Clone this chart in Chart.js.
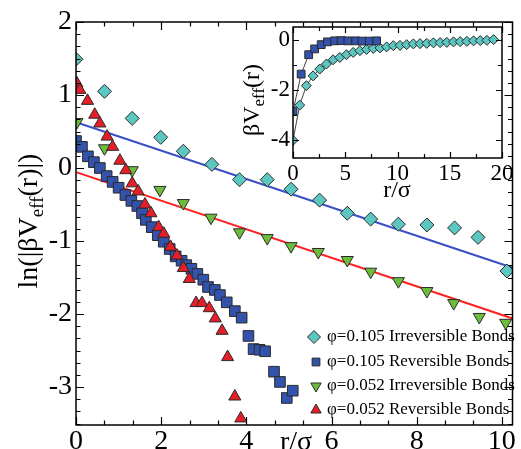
<!DOCTYPE html>
<html><head><meta charset="utf-8">
<script src="https://cdn.jsdelivr.net/npm/chart.js@4.4.1/dist/chart.umd.min.js"></script>
<style>
html,body{margin:0;padding:0;background:#fff;}
#wrap{position:relative;width:521px;height:449px;overflow:hidden;background:#fff;}
#wrap canvas{position:absolute;left:0;top:0;}
</style></head><body>
<div id="wrap"><canvas id="main" width="521" height="449"></canvas><canvas id="inset" width="521" height="449"></canvas></div>
<script>
// ---------- main panel data: ln(|beta V_eff(r)|) vs r/sigma ----------
const irr105X = [0, 0.67, 1.32, 1.99, 2.52, 3.19, 3.84, 4.49, 5.05, 5.72, 6.37, 6.92, 7.57, 8.24, 8.89, 9.44, 10.12];
const irr105Y = [1.49, 1.05, 0.68, 0.42, 0.23, 0.05, -0.16, -0.16, -0.29, -0.44, -0.62, -0.70, -0.77, -0.78, -0.82, -0.95, -1.41];

const rev105X = [0, 0.14, 0.28, 0.42, 0.56, 0.72, 0.86, 1.0, 1.16, 1.30, 1.44, 1.55, 1.64, 1.78, 1.92, 2.06, 2.2, 2.34, 2.48, 2.59, 2.71, 2.85, 2.99, 3.1, 3.26, 3.38, 3.54, 3.73, 3.89, 4.05, 4.17, 4.31, 4.44, 4.65, 4.79, 4.95, 5.09];
const rev105Y = [0.37, 0.29, 0.16, 0.08, 0, -0.11, -0.19, -0.27, -0.37, -0.45, -0.52, -0.62, -0.71, -0.81, -0.92, -1.01, -1.11, -1.21, -1.27, -1.33, -1.38, -1.45, -1.53, -1.63, -1.67, -1.74, -1.84, -1.96, -2.05, -2.30, -2.48, -2.49, -2.51, -2.79, -2.93, -3.15, -3.05];

const irr052X = [0.02, 0.67, 1.32, 1.97, 2.52, 3.17, 3.84, 4.49, 5.05, 5.69, 6.37, 6.92, 7.57, 8.24, 8.87, 9.47, 10.09];
const irr052Y = [0.63, 0.27, -0.03, -0.30, -0.48, -0.68, -0.88, -0.96, -1.07, -1.15, -1.26, -1.42, -1.55, -1.685, -1.85, -2.04, -2.12];

const rev052X = [0.02, 0.09, 0.27, 0.44, 0.56, 0.73, 0.86, 1.03, 1.17, 1.32, 1.46, 1.62, 1.76, 1.94, 2.06, 2.22, 2.37, 2.52, 2.66, 2.82, 2.96, 3.13, 3.27, 3.43, 3.56, 3.73, 3.87];
const rev052Y = [1.16, 1.07, 0.92, 0.73, 0.61, 0.43, 0.29, 0.10, -0.03, -0.21, -0.32, -0.50, -0.62, -0.81, -0.90, -1.08, -1.20, -1.37, -1.52, -1.85, -1.85, -1.92, -2.06, -2.23, -2.59, -3.13, -3.43];

// straight-line fits (end points)
const fitBlueX = [0.09, 10.3];
const fitBlueY = [0.61, -1.375];
const fitRedX = [0.02, 10.3];
const fitRedY = [-0.06, -2.07];

const legendLabels = [
  'φ=0.105 Irreversible Bonds',
  'φ=0.105 Reversible Bonds',
  'φ=0.052 Irreversible Bonds',
  'φ=0.052 Reversible Bonds'
];
const mainXTicks = [0, 2, 4, 6, 8, 10];
const mainYTicks = [-3, -2, -1, 0, 1, 2];

// ---------- inset data: beta V_eff(r) vs r/sigma ----------
const insetRevX = [0, 0.78, 1.5, 2.07, 2.7, 3.3, 3.98, 4.6, 5.25, 6.0, 6.6, 7.3, 8.0];
const insetRevY = [-2.84, -1.37, -0.6, -0.37, -0.2, -0.09, -0.05, -0.04, -0.05, -0.05, -0.06, -0.06, -0.05];
const insetIrrX = [0, 0.64, 1.28, 1.92, 2.56, 3.2, 3.84, 4.48, 5.12, 5.76, 6.4, 7.04, 7.68, 8.32, 8.96, 9.6, 10.24, 10.88, 11.52, 12.16, 12.8, 13.44, 14.08, 14.72, 15.36, 16.0, 16.64, 17.28, 17.92, 18.56, 19.2];
const insetIrrY = [-4.0, -2.6, -1.83, -1.44, -1.17, -0.97, -0.8, -0.71, -0.6, -0.51, -0.44, -0.39, -0.35, -0.33, -0.29, -0.24, -0.23, -0.2, -0.17, -0.16, -0.15, -0.13, -0.12, -0.11, -0.09, -0.08, -0.07, -0.05, -0.04, -0.03, 0];
const insetXTicks = [0, 5, 10, 15, 20];
const insetYTicks = [-4, -2, 0];

// ---------- styles ----------
const C_CYAN = '#5cc7c1', C_BLUE = '#3352ab', C_GREEN = '#6cbd3c', C_RED = '#e61e28';
const C_EDGE = '#2a2a2a';
const SERIF = 'Liberation Serif';

Chart.defaults.font.family = SERIF;
Chart.defaults.color = '#000';

const zip = (xs, ys) => xs.map((x, i) => ({x: x, y: ys[i]}));

function markerSet(label, xs, ys, style, color, radius, rotation, order) {
  return {
    label: label, data: zip(xs, ys), showLine: false,
    pointStyle: style, pointRadius: radius, pointHoverRadius: radius,
    pointRotation: rotation, pointBackgroundColor: color,
    pointBorderColor: C_EDGE, pointBorderWidth: 1,
    backgroundColor: color, borderColor: C_EDGE, order: order
  };
}

function frameTicksPlugin(cfg) {
  return {
    id: 'frameTicks',
    afterDatasetsDraw(chart) {
      const ctx = chart.ctx, a = chart.chartArea, xs = chart.scales.x, ys = chart.scales.y;
      ctx.save();
      ctx.strokeStyle = '#000';
      ctx.lineWidth = cfg.frame;
      ctx.strokeRect(a.left, a.top, a.right - a.left, a.bottom - a.top);
      ctx.lineWidth = cfg.tickW;
      ctx.beginPath();
      const x0 = Math.ceil(xs.min / cfg.xStep - 1e-9), x1 = Math.floor(xs.max / cfg.xStep + 1e-9);
      for (let k = x0; k <= x1; k++) {
        const v = k * cfg.xStep;
        const len = (k % cfg.xEvery === 0) ? cfg.major : cfg.minor;
        const p = Math.round(xs.getPixelForValue(v)) + 0.5;
        ctx.moveTo(p, a.bottom); ctx.lineTo(p, a.bottom - len);
        ctx.moveTo(p, a.top); ctx.lineTo(p, a.top + len);
      }
      const y0 = Math.ceil(ys.min / cfg.yStep - 1e-9), y1 = Math.floor(ys.max / cfg.yStep + 1e-9);
      for (let k = y0; k <= y1; k++) {
        const v = k * cfg.yStep;
        const len = (k % cfg.yEvery === 0) ? cfg.major : cfg.minor;
        const p = Math.round(ys.getPixelForValue(v)) + 0.5;
        ctx.moveTo(a.left, p); ctx.lineTo(a.left + len, p);
        ctx.moveTo(a.right, p); ctx.lineTo(a.right - len, p);
      }
      ctx.stroke();
      ctx.restore();
    }
  };
}

// text with a subscript; rotated = vertical (reading bottom to top)
function drawSubLabel(ctx, parts, cx, cy, rotated, align) {
  ctx.save();
  ctx.fillStyle = '#000';
  ctx.textBaseline = 'alphabetic';
  ctx.textAlign = 'left';
  let w = 0;
  parts.forEach(p => { ctx.font = p.size + 'px "' + SERIF + '"'; p.w = ctx.measureText(p.t).width; w += p.w; });
  ctx.translate(cx, cy);
  if (rotated) ctx.rotate(-Math.PI / 2);
  let pos = align === 'left' ? 0 : -w / 2;
  parts.forEach(p => { ctx.font = p.size + 'px "' + SERIF + '"'; ctx.fillText(p.t, pos, p.dy || 0); pos += p.w; });
  ctx.restore();
}

const helpers = Chart.helpers;

const legendPlugin = {
  id: 'customLegend',
  afterDraw(chart) {
    const ctx = chart.ctx;
    const rows = [
      {ds: 3, y: 337, sx: 314, r: 6.5},
      {ds: 2, y: 362, sx: 316, r: 5.5},
      {ds: 1, y: 386, sx: 316, r: 6},
      {ds: 0, y: 410, sx: 316, r: 6}
    ];
    ctx.save();
    rows.forEach((row, i) => {
      const d = chart.data.datasets[row.ds];
      ctx.fillStyle = d.pointBackgroundColor;
      ctx.strokeStyle = d.pointBorderColor;
      ctx.lineWidth = 1;
      helpers.drawPoint(ctx, {pointStyle: d.pointStyle, rotation: d.pointRotation || 0, radius: row.r, borderWidth: 1}, row.sx, row.y);
      ctx.fillStyle = '#000';
      ctx.font = '17px "' + SERIF + '"';
      ctx.textAlign = 'left';
      ctx.textBaseline = 'alphabetic';
      ctx.fillText(legendLabels[i], 327, row.y + 4);
    });
    ctx.restore();
  }
};

const mainTitles = {
  id: 'mainTitles',
  afterDraw(chart) {
    const ctx = chart.ctx;
    drawSubLabel(ctx, [
      {t: 'ln(|βV', size: 28},
      {t: 'eff', size: 19, dy: 6},
      {t: '(r)|)', size: 28}
    ], 37, 221, true);
    drawSubLabel(ctx, [{t: 'r/σ', size: 28}], 280, 450, false, 'left');
  }
};

const insetTitles = {
  id: 'insetTitles',
  afterDraw(chart) {
    const ctx = chart.ctx;
    drawSubLabel(ctx, [
      {t: 'βV', size: 24},
      {t: 'eff', size: 17, dy: 5},
      {t: '(r)', size: 24}
    ], 259, 100, true);
    drawSubLabel(ctx, [{t: 'r/σ', size: 24}], 397, 197, false);
  }
};

function tickOpts(size, pad, list) {
  return {
    color: '#000', padding: pad, autoSkip: false, maxRotation: 0, includeBounds: false,
    font: {family: SERIF, size: size},
    callback: (v) => list.indexOf(Math.round(v * 1000) / 1000) >= 0 ? String(v) : ''
  };
}

new Chart(document.getElementById('main'), {
  type: 'scatter',
  data: {
    datasets: [
      markerSet(legendLabels[3], rev052X, rev052Y, 'triangle', C_RED, 7, 0, 0),
      markerSet(legendLabels[2], irr052X, irr052Y, 'triangle', C_GREEN, 7, 180, 1),
      markerSet(legendLabels[1], rev105X, rev105Y, 'rect', C_BLUE, 7.5, 0, 2),
      markerSet(legendLabels[0], irr105X, irr105Y, 'rectRot', C_CYAN, 7, 0, 3),
      {label: 'fit 0.105', data: zip(fitBlueX, fitBlueY), showLine: true, borderColor: '#3c50c8', borderWidth: 2, pointRadius: 0, order: 5},
      {label: 'fit 0.052', data: zip(fitRedX, fitRedY), showLine: true, borderColor: '#ff2020', borderWidth: 2, pointRadius: 0, order: 5}
    ]
  },
  options: {
    responsive: false, animation: false, devicePixelRatio: 1, events: [],
    layout: {padding: {left: 0, right: 2, top: 22, bottom: 0}},
    plugins: {legend: {display: false}, tooltip: {enabled: false}},
    scales: {
      x: {
        type: 'linear', min: 0, max: 10.25,
        border: {display: false}, grid: {display: false, drawTicks: false},
        ticks: Object.assign(tickOpts(28, 0, mainXTicks), {stepSize: 2}),
        afterFit(s) { s.height = 24; s.paddingLeft = 0; s.paddingRight = 0; }
      },
      y: {
        type: 'linear', min: -3.52, max: 2,
        border: {display: false}, grid: {display: false, drawTicks: false},
        ticks: Object.assign(tickOpts(28, 4, mainYTicks), {stepSize: 1}),
        afterFit(s) { s.width = 76; s.paddingTop = 0; s.paddingBottom = 0; }
      }
    }
  },
  plugins: [frameTicksPlugin({frame: 1.5, tickW: 1.2, major: 8, minor: 4.5, xStep: 2 / 3, xEvery: 3, yStep: 1 / 6, yEvery: 6}), legendPlugin, mainTitles]
});

new Chart(document.getElementById('inset'), {
  type: 'scatter',
  data: {
    datasets: [
      Object.assign(markerSet('rev', insetRevX, insetRevY, 'rect', C_BLUE, 5.5, 0, 0), {showLine: true, borderColor: '#444', borderWidth: 1}),
      Object.assign(markerSet('irr', insetIrrX, insetIrrY, 'rectRot', C_CYAN, 5, 0, 1), {showLine: true, borderColor: '#444', borderWidth: 1})
    ]
  },
  options: {
    responsive: false, animation: false, devicePixelRatio: 1, events: [],
    layout: {padding: {left: 0, right: 19, top: 27, bottom: 0}},
    plugins: {legend: {display: false}, tooltip: {enabled: false}},
    scales: {
      x: {
        type: 'linear', min: 0, max: 20,
        border: {display: false}, grid: {display: false, drawTicks: false},
        ticks: Object.assign(tickOpts(23, 2, insetXTicks), {stepSize: 5}),
        afterFit(s) { s.height = 291; s.paddingLeft = 0; s.paddingRight = 0; }
      },
      y: {
        type: 'linear', min: -4.7, max: 0.5,
        border: {display: false}, grid: {display: false, drawTicks: false},
        ticks: Object.assign(tickOpts(23, 3, insetYTicks), {stepSize: 2}),
        afterFit(s) { s.width = 293; s.paddingTop = 0; s.paddingBottom = 0; }
      }
    }
  },
  plugins: [frameTicksPlugin({frame: 1.5, tickW: 1.2, major: 6, minor: 4, xStep: 2.5, xEvery: 2, yStep: 1, yEvery: 2}), insetTitles]
});
</script>
</body></html>
